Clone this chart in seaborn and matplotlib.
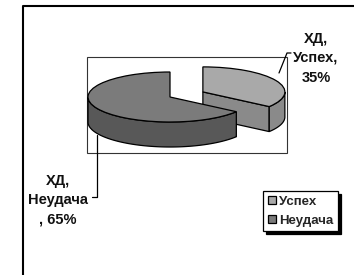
import numpy as np
import matplotlib
matplotlib.use("Agg")
import matplotlib.pyplot as plt
import seaborn as sns
from matplotlib.patches import Polygon, Rectangle

# data
categories = ["Успех", "Неудача"]
shares = [35, 65]
point_labels = ["ХД,\nУспех,\n35%", "ХД,\nНеудача\n, 65%"]

top_colors = ["#a9a9a9", "#7b7b7b"]
side_colors = ["#8a8a8a", "#585858"]

sns.set_theme(style="white")
plt.rcParams['font.family'] = ['Liberation Sans', 'DejaVu Sans']

W, H = 354, 275
fig = plt.figure(figsize=(W / 100, H / 100), dpi=100)
fig.patch.set_facecolor("white")

# overlay in pixel units for frame, labels and leaders
ax_px = fig.add_axes([0, 0, 1, 1], zorder=1)
ax_px.set_xlim(0, W)
ax_px.set_ylim(H, 0)
ax_px.axis("off")

# pie axes: unit circle becomes an ellipse (rx, ry in px) centred at (cx, cy)
cx, cy, rx, ry = 170, 97, 82, 25
depth = 25 / ry
ax = fig.add_axes([0, 0, 1, 1], zorder=2)
ax.patch.set_visible(False)

wedges, _ = ax.pie(shares, explode=[0.45, 0], startangle=90, counterclock=False,
                   colors=top_colors,
                   wedgeprops=dict(edgecolor="black", linewidth=0.9))
ax.set_aspect("auto")
ax.set_xlim(-cx / rx, (W - cx) / rx)
ax.set_ylim(-(H - cy) / ry, cy / ry)
ax.axis("off")

# side walls drawn behind each top face; the first slice sits further back
for i, w in enumerate(wedges):
    x0, y0 = w.center
    r = w.r
    base = 1 + 2 * i
    # cut faces that turn toward the viewer
    for edge, sign in ((w.theta1, 1), (w.theta2, -1)):
        a = np.radians(edge)
        if sign * np.cos(a) > 1e-6:
            ex, ey = x0 + r * np.cos(a), y0 + r * np.sin(a)
            face = Polygon([(x0, y0), (ex, ey), (ex, ey - depth), (x0, y0 - depth)],
                           closed=True, facecolor=side_colors[i], edgecolor="black",
                           linewidth=0.9, zorder=base)
            ax.add_patch(face)
    th = np.radians(np.linspace(w.theta1, w.theta2, 300))
    th = th[np.sin(th) <= 0]
    if len(th):
        xs = x0 + r * np.cos(th)
        ys = y0 + r * np.sin(th)
        pts = list(zip(xs, ys)) + list(zip(xs[::-1], ys[::-1] - depth))
        ax.add_patch(Polygon(pts, closed=True, facecolor=side_colors[i],
                             edgecolor="black", linewidth=0.9, zorder=base))
    w.set_zorder(base + 1)

# plot area and outer frame
ax_px.add_patch(Rectangle((87, 57), 200, 96, fill=False, edgecolor="#333333", linewidth=0.8))
ax_px.plot([23, 23, W], [H, 6, 6], color="black", linewidth=1.5, solid_capstyle="butt")

# data labels with leader lines
ax_px.text(316, 58, point_labels[0], ha="center", va="center", fontsize=10.5,
           fontweight="bold", linespacing=1.5, color="#111111")
ax_px.text(58, 200, point_labels[1], ha="center", va="center", fontsize=10.5,
           fontweight="bold", linespacing=1.5, color="#111111")
ax_px.plot([291, 287, 279], [53, 53, 73], color="black", linewidth=0.9)
ax_px.plot([92, 97, 97], [197, 197, 135], color="black", linewidth=0.9)

leg = ax.legend(wedges, categories, loc="upper left",
                bbox_to_anchor=(263 / W, 1 - 191 / H), bbox_transform=fig.transFigure,
                borderaxespad=0, fancybox=False, frameon=True,
                shadow={"color": "black", "alpha": 1},
                handlelength=0.6, handleheight=0.6, handletextpad=0.3,
                borderpad=0.35, labelspacing=0.55,
                prop={"size": 9.5, "weight": "bold"})
leg.get_frame().set_edgecolor("black")
leg.get_frame().set_linewidth(0.9)

fig.savefig("out.png", dpi=100, facecolor="white")
